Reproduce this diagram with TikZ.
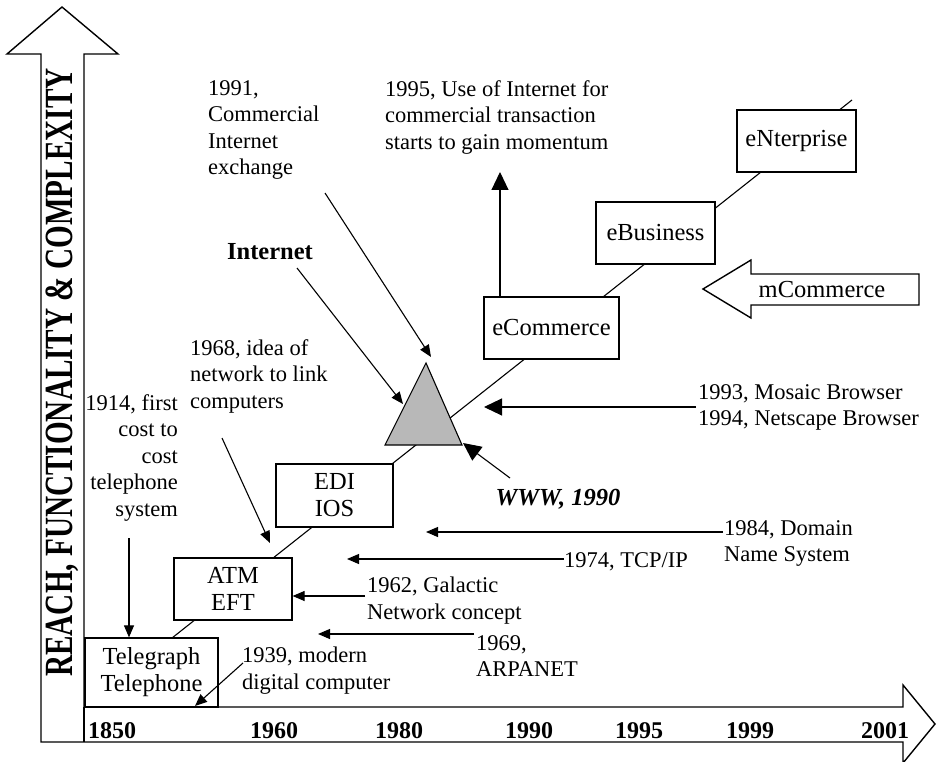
\documentclass[tikz,border=0pt]{standalone}
\usepackage{fontspec}
\setmainfont{Liberation Serif}
\usepackage{graphicx}
\usetikzlibrary{arrows.meta}

\begin{document}
\begin{tikzpicture}[x=1pt,y=-1pt,
  note/.style={font=\fontsize{22.5}{26.5}\selectfont, inner sep=0pt, align=left, anchor=north west},
  boldnote/.style={font=\fontsize{24.5}{27}\selectfont\bfseries, inner sep=0pt},
  box/.style={draw, line width=1.2pt, fill=white, font=\fontsize{24.5}{27}\selectfont,
              align=center, inner sep=0pt},
  year/.style={font=\fontsize{24}{24}\selectfont\bfseries, inner sep=0pt, anchor=base},
  arr/.style={line width=1.1pt, -{Triangle[length=12pt,width=10pt]}},
  bigarr/.style={line width=1.1pt, -{Triangle[length=18pt,width=17pt]}},
  outline/.style={line width=1.4pt, line join=miter},
  trend/.style={line width=1.1pt}]
\useasboundingbox (0,0) rectangle (937,762);

% ---- axes: upward block arrow and time-line block arrow ----
\draw[outline] (41,742) -- (41,54) -- (7,54) -- (62,7) -- (118,54) -- (84,54)
  -- (84,707) -- (903,707) -- (903,685) -- (935,724) -- (903,763) -- (903,742) -- cycle;
\draw[outline] (84,707) -- (84,742);
\node[anchor=base, rotate=90, inner sep=0pt] (yaxis) at (72,372.5)
  {\scalebox{0.73}[1]{\fontsize{40}{40}\selectfont\bfseries REACH, FUNCTIONALITY \& COMPLEXITY}};

% ---- years ----
\node[year] (y1850) at (112,738) {1850};
\node[year] (y1960) at (274,738) {1960};
\node[year] (y1980) at (399,738) {1980};
\node[year] (y1990) at (529,738) {1990};
\node[year] (y1995) at (639,738) {1995};
\node[year] (y1999) at (750,738) {1999};
\node[year] (y2001) at (885,738) {2001};

% ---- growth line behind the stages ----
\coordinate (t0) at (172,638);
\coordinate (t1) at (852,100);
\draw[trend] (t0) -- (t1);

% ---- stages ----
\node[box, minimum width=133pt, minimum height=69pt] (tel) at (151.5,672.5) {Telegraph\\Telephone};
\node[box, minimum width=118pt, minimum height=62pt] (atm) at (233,589) {ATM\\EFT};
\node[box, minimum width=117pt, minimum height=63pt] (edi) at (334.5,495.5) {EDI\\IOS};
\node[box, minimum width=135pt, minimum height=62pt] (ecom) at (551.5,328) {eCommerce};
\node[box, minimum width=119pt, minimum height=62pt] (ebus) at (655.5,233) {eBusiness};
\node[box, minimum width=119pt, minimum height=62pt] (ent) at (796.5,141) {eNterprise};

% ---- Internet triangle ----
\draw[line width=1.1pt, fill=black!28] (385,445) coordinate (triL) -- (426,363) coordinate (triA)
  -- (462,445) coordinate (triR) -- cycle;

% ---- mCommerce block arrow ----
\draw[outline, fill=white] (703,289) -- (751,260) -- (751,274) -- (919,274) -- (919,305)
  -- (751,305) -- (751,318) -- cycle;
\node[font=\fontsize{24.5}{27}\selectfont, inner sep=0pt] (mcom) at (822,290) {mCommerce};

% ---- annotations ----
\node[note] (n1991) at (208,80) {1991,\\Commercial\\Internet\\exchange};
\node[note] (n1995) at (385,80) {1995, Use of Internet for\\commercial transaction\\starts to gain momentum};
\node[boldnote] (inet) at (270,252) {Internet};
\node[note] (n1968) at (190,339) {1968, idea of\\network to link\\computers};
\node[note, anchor=north east, align=right] (n1914) at (178,394) {1914, first\\cost to\\cost\\telephone\\system};
\node[note] (nmos) at (698,384) {1993, Mosaic Browser\\1994, Netscape Browser};
\node[boldnote, font=\fontsize{24.5}{27}\selectfont\bfseries\itshape] (www) at (558,499) {WWW, 1990};
\node[note] (ndns) at (724,520) {1984, Domain\\Name System};
\node[note] (ntcp) at (564,552) {1974, TCP/IP};
\node[note] (ngal) at (367,577) {1962, Galactic\\Network concept};
\node[note] (narp) at (476,635) {1969,\\ARPANET};
\node[note] (n1939) at (242,647) {1939, modern\\digital computer};

% ---- pointers ----
\coordinate (s1991) at (325,193);   \coordinate (e1991) at (431,357);
\coordinate (sinet) at (297,268);   \coordinate (einet) at (403,404);
\coordinate (s1968) at (222,438);   \coordinate (e1968) at (270,543);
\coordinate (s1914) at (129,538);
\coordinate (s1939) at (243,663);   \coordinate (e1939) at (195,706);
\coordinate (sgal)  at (365,596);
\coordinate (stcp)  at (564,559);   \coordinate (etcp)  at (347,559);
\coordinate (sdns)  at (723,532);   \coordinate (edns)  at (426,532);
\coordinate (sarp)  at (474,634);   \coordinate (earp)  at (318,634);
\coordinate (smos)  at (696,407);   \coordinate (emos)  at (484,407);
\coordinate (swww)  at (510,478);   \coordinate (ewww)  at (463,443);
\coordinate (eup)   at (500,172);

\draw[arr] (s1991) -- (e1991);
\draw[arr] (sinet) -- (einet);
\draw[arr] (s1968) -- (e1968);
\draw[arr] (s1914) -- (s1914 |- tel.north);
\draw[arr] (s1939) -- (e1939);
\draw[arr] (sgal) -- (sgal -| atm.east);
\draw[arr] (stcp) -- (etcp);
\draw[arr] (sdns) -- (edns);
\draw[arr] (sarp) -- (earp);
\draw[bigarr] (smos) -- (emos);
\draw[bigarr] (swww) -- (ewww);
\draw[bigarr] (eup |- ecom.north) -- (eup);
\end{tikzpicture}
\end{document}
